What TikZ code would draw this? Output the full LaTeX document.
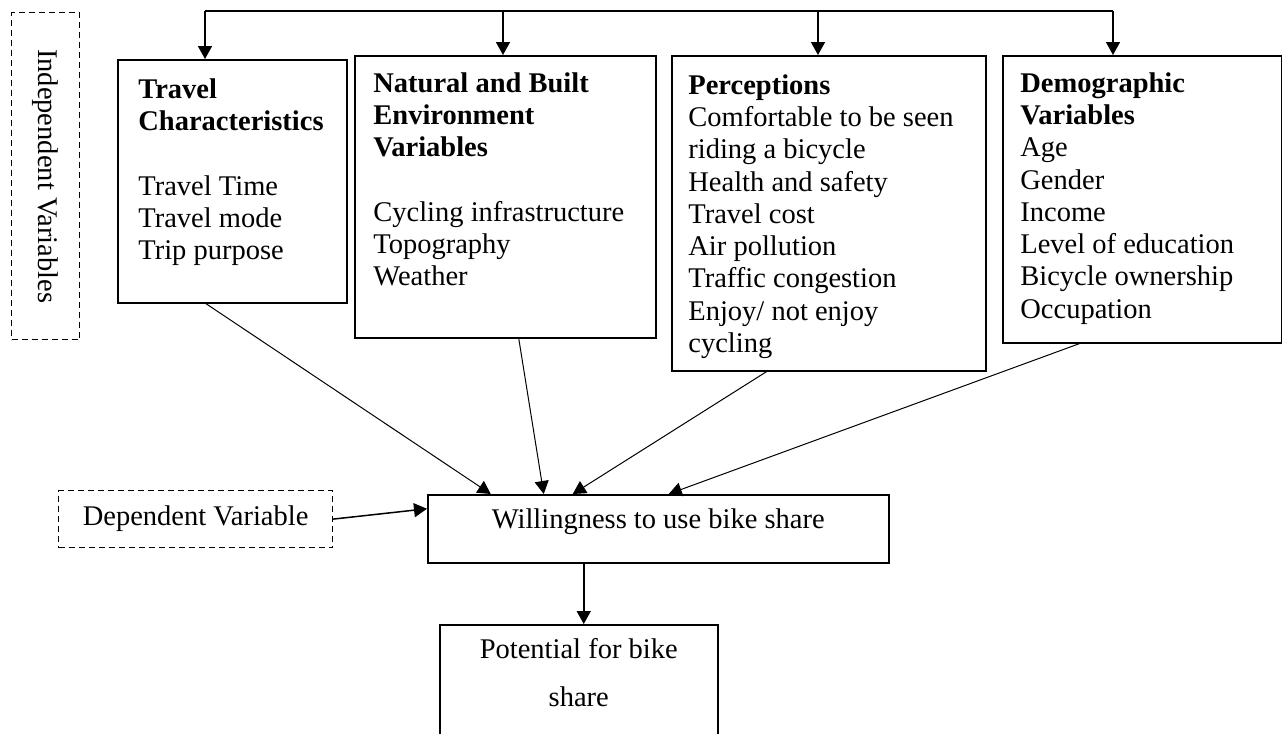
\documentclass[tikz,border=0pt]{standalone}
\usepackage{fontspec}
\setmainfont{Liberation Serif}
\usetikzlibrary{positioning,arrows.meta}

\begin{document}
\begin{tikzpicture}[x=0.5pt,y=-0.5pt,
  font=\fontsize{14.25pt}{16.15pt}\selectfont,
  % common options for the boxes:
  box/.style = {draw, line width=0.75pt, anchor=north west, inner sep=0},
  % dashed boxes for the kind of variable:
  dbox/.style = {box, line width=0.6pt, densely dashed},
  % text inside the boxes:
  txt/.style = {anchor=north west, align=left, inner sep=0},
  % common options for the arrows:
  arr/.style = {-{Triangle[length=6.5pt,width=7pt]}, line width=0.5pt}
  ]
  \useasboundingbox (0,0) rectangle (1282,734);

  % independent variables
  \node[dbox, minimum width=34pt, minimum height=163.5pt] (indep) at (11,12) {};
  \node[rotate=-90, inner sep=0] (indeptxt) at (indep.center) {Independent Variables};

  \node[box, minimum width=114.5pt, minimum height=121.5pt] (travel) at (117,59) {};
  \node[box, minimum width=150.5pt, minimum height=141pt] (natural) at (354,55) {};
  \node[box, minimum width=157pt, minimum height=157.5pt] (percep) at (671,55) {};
  \node[box, minimum width=139.5pt, minimum height=143.5pt] (demog) at (1002,55) {};

  \node[txt] (traveltxt) at ([xshift=10.5pt,yshift=-9.5pt]travel.north west)
    {\textbf{Travel}\\ \textbf{Characteristics}\\[\baselineskip]
     Travel Time\\ Travel mode\\ Trip purpose};
  \node[txt] (naturaltxt) at ([xshift=9.5pt,yshift=-8.5pt]natural.north west)
    {\textbf{Natural and Built}\\ \textbf{Environment}\\ \textbf{Variables}\\[\baselineskip]
     Cycling infrastructure\\ Topography\\ Weather};
  \node[txt] (perceptxt) at ([xshift=8.5pt,yshift=-9.5pt]percep.north west)
    {\textbf{Perceptions}\\ Comfortable to be seen\\ riding a bicycle\\
     Health and safety\\ Travel cost\\ Air pollution\\ Traffic congestion\\
     Enjoy/ not enjoy\\ cycling};
  \node[txt] (demogtxt) at ([xshift=9pt,yshift=-8.5pt]demog.north west)
    {\textbf{Demographic}\\ \textbf{Variables}\\ Age\\ Gender\\ Income\\
     Level of education\\ Bicycle ownership\\ Occupation};

  % dependent variable and outcome
  \node[dbox, minimum width=137pt, minimum height=28.5pt] (dep) at (58,490) {Dependent Variable};
  \node[box, minimum width=230.5pt, minimum height=34pt] (will) at (427,494) {};
  \node[anchor=north, inner sep=0] (willtxt) at ([yshift=-7pt]will.north)
    {Willingness to use bike share};
  \node[box, minimum width=139pt, minimum height=58pt] (pot) at (439,624) {};
  \node[anchor=north, inner sep=0, align=center, font=\fontsize{14.25pt}{24pt}\selectfont]
    (pottxt) at ([yshift=-7pt]pot.north) {Potential for bike\\ share};

  % top line feeding the four groups
  \coordinate (d1) at (205,11);
  \coordinate (d2) at (503,11);
  \coordinate (d3) at (818,11);
  \coordinate (d4) at (1113,11);
  \draw[line width=0.75pt] (d1) -- (d4);
  \foreach \d/\b in {d1/travel, d2/natural, d3/percep, d4/demog}
    \draw[arr, line width=0.75pt] (\d) -- (\d |- \b.north);

  \draw[arr] ([xshift=-13.25pt]travel.south) -- ([xshift=-83.75pt]will.north);
  \draw[arr] ([xshift=6.75pt]natural.south) -- ([xshift=-57.25pt]will.north);
  \draw[arr] ([xshift=-31pt]percep.south) -- ([xshift=-42.75pt]will.north);
  \draw[arr] ([xshift=-31.25pt]demog.south) -- ([xshift=5.25pt]will.north);
  \draw[arr, line width=0.75pt] (dep.east) -- ([yshift=10pt]will.west);

  \coordinate (w2p) at ([xshift=-37.25pt]will.south);
  \draw[arr, line width=0.75pt] (w2p) -- (w2p |- pot.north);
\end{tikzpicture}
\end{document}
